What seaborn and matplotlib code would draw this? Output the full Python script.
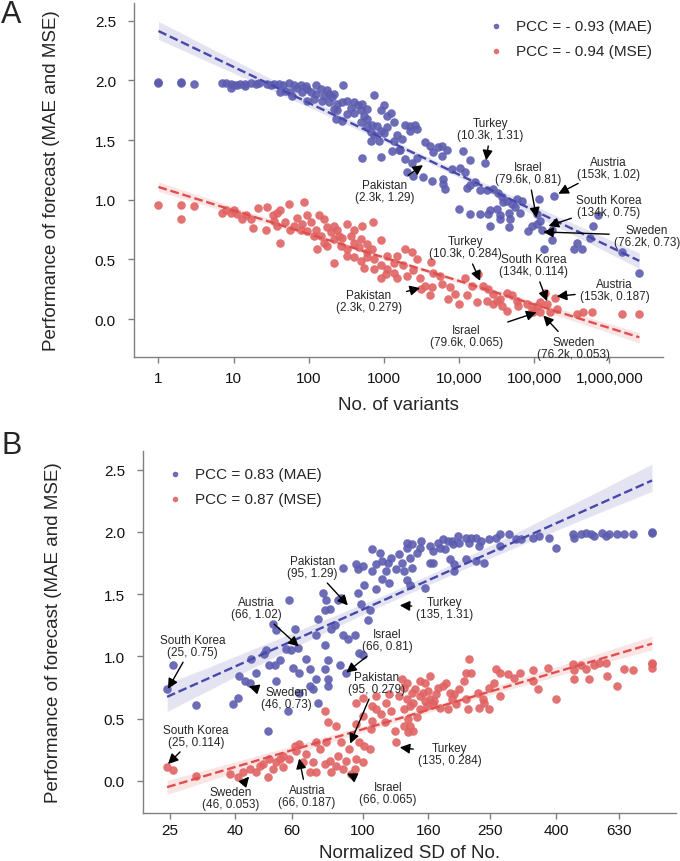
import numpy as np
import matplotlib
matplotlib.use("Agg")
import matplotlib.pyplot as plt
import seaborn as sns

# ---- panel A: number of variants vs forecast error ----
a_mae = [(1, 1.98), (1, 1.99), (2, 1.99), (2, 1.98), (3, 1.97), (7, 1.98), (7.8, 1.98), (9.1, 1.97), (10, 1.96),
         (12, 1.97), (14, 1.97), (17, 1.98), (20, 1.97), (22, 1.98), (28, 1.97), (31, 1.96), (34, 1.97), (40, 1.97),
         (45, 1.96), (55, 1.98), (63, 1.96), (70, 1.94), (78, 1.96), (91, 1.95), (95, 1.93), (123, 1.96), (144, 1.93),
         (177, 1.92), (288, 1.96), (42, 1.90), (49, 1.91), (57, 1.90), (82, 1.90), (106, 1.90), (123, 1.89),
         (159, 1.87), (205, 1.86), (215, 1.89), (151, 1.83), (186, 1.82), (240, 1.80), (280, 1.82), (325, 1.83),
         (400, 1.82), (515, 1.80), (735, 1.88), (1000, 1.79), (905, 1.75), (1230, 1.73), (600, 1.76), (540, 1.70),
         (400, 1.73), (325, 1.72), (240, 1.75), (228, 1.68), (280, 1.66), (490, 1.65), (600, 1.68), (695, 1.63),
         (815, 1.62), (905, 1.58), (1100, 1.61), (1360, 1.65), (735, 1.54), (855, 1.49), (670, 1.49), (1000, 1.56),
         (1360, 1.49), (1510, 1.54), (1290, 1.41), (1590, 1.42), (515, 1.35), (905, 1.36), (9.1, 1.94), (11, 1.96),
         (14, 1.95), (60, 1.87), (95, 1.83), (117, 1.84), (186, 1.89), (360, 1.77), (445, 1.79), (215, 1.76),
         (490, 1.75), (600, 1.62), (680, 1.57), (1100, 1.70),
         (1910, 1.63), (2220, 1.62), (2580, 1.63), (2740, 1.59), (2220, 1.58), (1740, 1.51), (1630, 1.42),
         (1910, 1.34), (2340, 1.31), (2740, 1.35), (3530, 1.48), (4100, 1.45), (4540, 1.40), (5270, 1.44),
         (5860, 1.45), (6800, 1.42), (5860, 1.37), (7960, 1.26), (10300, 1.27), (12000, 1.23), (11400, 1.41),
         (14000, 1.33), (22100, 1.31), (2000, 1.23), (2460, 1.20), (3330, 1.19), (4330, 1.16), (6150, 1.17),
         (6150, 1.13), (6470, 1.09), (12600, 1.10), (14000, 1.12), (16300, 1.15), (19000, 1.08), (23400, 1.08),
         (28600, 1.09), (33300, 1.06), (37000, 1.02), (38900, 0.98), (43000, 0.99), (50000, 0.96), (58500, 1.01),
         (68000, 0.99), (55500, 0.94), (64600, 0.89), (45500, 0.89), (35000, 0.87), (35000, 0.84), (31700, 0.92),
         (25800, 0.91), (24500, 0.88), (19000, 0.88), (14000, 0.88), (9820, 0.92), (25800, 0.78), (47700, 0.84),
         (45500, 0.77), (83400, 0.74), (92600, 0.78), (108000, 0.80), (120000, 0.82), (108000, 0.88),
         (114000, 1.01), (126000, 0.75), (171000, 0.66), (133000, 0.59), (185000, 1.03), (367000, 0.64),
         (427000, 0.59), (334000, 0.59), (553000, 0.68), (713000, 0.87), (613000, 0.78), (1450000, 0.56),
         (2500000, 0.39), (171000, 0.75)]

a_mse = [(1, 0.955), (2, 0.955), (2, 0.84), (3, 0.95), (7, 0.89), (7.8, 0.91), (9.1, 0.89), (10, 0.91), (11, 0.88),
         (13, 0.84), (17, 0.84), (21, 0.93), (18, 0.76), (27, 0.75), (28, 0.94), (33, 0.87), (38, 0.89), (42, 0.91),
         (55, 0.96), (41, 0.64), (49, 0.81), (63, 0.78), (70, 0.85), (82, 0.80), (86, 0.98), (95, 0.87), (78, 0.75),
         (95, 0.74), (106, 0.81), (123, 0.75), (130, 0.59), (137, 0.87), (159, 0.84), (177, 0.77), (195, 0.73),
         (215, 0.78), (240, 0.75), (325, 0.80), (400, 0.75), (515, 0.78), (720, 0.81), (159, 0.64), (177, 0.61),
         (215, 0.67), (252, 0.70), (265, 0.61), (325, 0.59), (400, 0.64), (490, 0.67), (600, 0.63), (695, 0.59),
         (905, 0.66), (215, 0.47), (325, 0.53), (400, 0.52), (490, 0.49), (540, 0.43), (600, 0.56), (735, 0.50),
         (905, 0.45), (905, 0.34), (1100, 0.53), (1100, 0.42), (1360, 0.47), (1510, 0.53), (1360, 0.39),
         (1510, 0.34), (117, 0.70), (144, 0.70), (57, 0.75), (38, 0.78), (34, 0.82), (14.5, 0.87), (280, 0.68),
         (360, 0.70), (467, 0.60), (600, 0.52), (735, 0.42), (1050, 0.38),
         (1910, 0.59), (2340, 0.56), (2740, 0.50), (1820, 0.45), (2000, 0.36), (2460, 0.41), (3000, 0.34),
         (3530, 0.28), (4100, 0.20), (4540, 0.39), (5570, 0.36), (5860, 0.29), (4330, 0.27), (3160, 0.25),
         (7560, 0.27), (7180, 0.17), (9820, 0.13), (8830, 0.21), (12600, 0.20), (12000, 0.34), (14700, 0.28),
         (21000, 0.28), (18000, 0.38), (24500, 0.25), (28600, 0.21), (31700, 0.15), (35000, 0.17), (37000, 0.11),
         (43000, 0.22), (50000, 0.20), (58500, 0.15), (61500, 0.11), (43000, 0.07), (28600, 0.13), (23400, 0.15),
         (17100, 0.14), (79300, 0.13), (92600, 0.08), (108000, 0.11), (120000, 0.14), (147000, 0.13),
         (163000, 0.06), (200000, 0.08), (120000, 0.06), (97400, 0.06), (190000, 0.18), (367000, 0.04),
         (448000, 0.06), (583000, 0.06), (1450000, 0.04), (2500000, 0.04), (140000, 0.22), (4200, 0.48)]

# ---- panel B: normalized SD vs forecast error ----
b_mae = [(24.5, 0.74), (25.5, 0.93), (30.2, 0.61), (39.3, 0.62), (40.7, 0.67), (41.2, 0.84), (42.8, 0.80),
         (44.3, 0.79), (46.5, 0.87), (44.9, 0.98), (49.3, 1.02), (49.9, 1.05), (51.1, 0.93), (53.0, 0.93),
         (55.0, 0.97), (53.7, 0.80), (58.3, 0.56), (59.0, 1.45), (62.7, 1.07), (61.2, 1.22), (57.7, 1.06),
         (59.7, 1.05), (52.4, 1.26), (53.7, 1.21), (50.5, 0.40), (66.5, 0.98), (68.2, 0.90), (69.8, 0.74),
         (72.4, 0.63), (63.4, 0.87), (71.5, 1.17), (72.4, 1.30), (75.9, 1.09), (77.8, 0.97), (78.7, 1.38),
         (75.0, 1.51), (76.9, 1.45), (75.9, 0.90), (84.6, 0.93), (86.7, 1.17), (88.7, 0.87), (83.6, 1.45),
         (79.6, 1.22), (81.6, 1.25), (89.8, 1.14), (94.2, 1.17), (78, 0.76), (97.5, 1.03), (100, 1.01),
         (98.8, 1.42), (96.4, 1.51), (101, 1.57), (105, 1.37), (104, 1.29), (107, 1.86), (110, 1.74), (113, 1.83),
         (115, 1.77), (120, 1.75), (122, 1.79), (127, 1.70), (137, 1.87), (140, 1.79), (110, 1.54), (115, 1.62),
         (121, 1.59), (96.4, 1.70), (95.3, 1.74), (100, 1.73), (86.7, 1.71), (107, 1.69), (118, 1.69),
         (77.8, 0.82), (63.4, 0.71), (68.2, 0.76), (60.5, 0.91), (71.5, 0.82), (75.9, 1.37), (85.6, 1.47),
         (137, 1.91), (142, 1.90), (152, 1.93), (151, 1.87), (147, 1.83), (162, 1.89), (166, 1.85), (171, 1.91),
         (174, 1.87), (180, 1.86), (184, 1.93), (189, 1.93), (191, 1.90), (198, 1.97), (210, 1.95), (215, 1.91),
         (218, 1.95), (226, 1.95), (234, 1.93), (231, 1.89), (248, 1.94), (260, 1.95), (267, 1.98), (286, 1.98),
         (300, 1.94), (311, 1.94), (339, 1.95), (355, 1.97), (381, 1.95), (400, 1.87), (451, 1.98), (456, 1.95),
         (479, 1.98), (496, 1.99), (514, 1.98), (526, 1.97), (558, 1.99), (572, 1.97), (586, 1.98), (622, 1.98),
         (653, 1.98), (697, 1.98), (798, 1.99), (798, 2.00), (134, 1.69), (137, 1.61), (142, 1.71), (156, 1.55),
         (162, 1.75), (166, 1.75), (187, 1.78), (193, 1.69), (193, 1.74), (210, 1.78), (226, 1.77), (239, 1.75),
         (267, 1.89), (130, 1.82), (132, 1.75), (140, 1.57), (178, 1.94), (200, 1.91)]

b_mse = [(24.5, 0.11), (25.5, 0.09), (30.2, 0.04), (38.4, 0.06), (40.7, 0.03), (42.3, 0.07), (44.3, 0.10),
         (47.6, 0.12), (50.5, 0.03), (52.4, 0.10), (53.7, 0.15), (56.3, 0.11), (59.0, 0.18), (61.2, 0.28),
         (62.0, 0.24), (65.0, 0.15), (66.5, 0.22), (68.2, 0.07), (69.8, 0.15), (71.5, 0.07), (73.3, 0.26),
         (75.9, 0.14), (76.9, 0.31), (78.7, 0.16), (79.6, 0.07), (82.6, 0.12), (83.6, 0.20), (85.6, 0.31),
         (86.7, 0.10), (88.7, 0.16), (90.8, 0.26), (91.9, 0.06), (94.2, 0.10), (95.3, 0.18), (97.5, 0.31),
         (100, 0.15), (101, 0.28), (105, 0.26), (106, 0.42), (107, 0.48), (110, 0.58), (114, 0.54), (117, 0.47),
         (118, 0.63), (122, 0.56), (126, 0.40), (127, 0.31), (130, 0.68), (95.3, 0.63), (95.3, 0.46), (100, 0.52),
         (110, 0.68), (100, 0.67), (107, 0.60), (121, 0.70), (82.6, 0.44), (75.9, 0.56), (77.8, 0.47),
         (71.5, 0.31), (63.4, 0.30), (56.3, 0.20), (55.0, 0.18), (46.5, 0.07), (48.8, 0.14), (51.1, 0.18),
         (215, 0.98), (210, 0.87), (218, 0.87), (207, 0.80), (200, 0.74), (193, 0.70), (187, 0.71), (182, 0.79),
         (178, 0.76), (171, 0.75), (169, 0.70), (167, 0.64), (166, 0.62), (162, 0.66), (156, 0.64), (154, 0.71),
         (151, 0.80), (156, 0.79), (162, 0.84), (145, 0.74), (142, 0.71), (137, 0.79), (134, 0.75), (132, 0.82),
         (137, 0.66), (143, 0.63), (140, 0.60), (134, 0.58), (138, 0.50), (134, 0.44), (138, 0.39), (143, 0.40),
         (140, 0.44), (147, 0.51), (151, 0.58), (158, 0.60), (174, 0.59), (184, 0.58), (195, 0.62), (210, 0.66),
         (228, 0.71), (231, 0.59), (237, 0.66), (239, 0.63), (248, 0.75), (257, 0.79), (260, 0.90), (267, 0.87),
         (267, 0.68), (283, 0.86), (297, 0.83), (308, 0.87), (339, 0.89), (339, 0.80), (351, 0.74), (377, 0.91),
         (400, 0.66), (451, 0.94), (456, 0.89), (456, 0.82), (479, 0.93), (496, 0.90), (508, 0.82), (526, 0.93),
         (546, 0.95), (572, 0.95), (579, 0.84), (622, 0.76), (653, 0.90), (697, 0.89), (798, 0.95), (798, 0.91),
         (798, 0.94), (248, 0.58), (213, 0.58), (189, 0.66), (151, 0.68), (160, 0.72)]

a_ticks = [1, 10, 100, 1000, 10000, 100000, 1000000]
a_ticklabels = ["1", "10", "100", "1000", "10,000", "100,000", "1,000,000"]
b_ticks = [25, 40, 60, 100, 160, 250, 400, 630]

a_legend = ["PCC = - 0.93 (MAE)", "PCC = - 0.94 (MSE)"]
b_legend = ["PCC = 0.83 (MAE)", "PCC = 0.87 (MSE)"]

# annotations: text, arrow tip (log10 x, y), text centre (log10 x, y)
a_notes = [("Turkey\n(10.3k, 1.31)", (4.36, 1.33), (4.42, 1.59)),
           ("Pakistan\n(2.3k, 1.29)", (3.52, 1.29), (3.01, 1.07)),
           ("Israel\n(79.6k, 0.81)", (5.03, 0.85), (4.92, 1.22)),
           ("Austria\n(153k, 1.02)", (5.32, 1.05), (5.99, 1.27)),
           ("South Korea\n(134k, 0.75)", (5.19, 0.78), (5.99, 0.95)),
           ("Sweden\n(76.2k, 0.73)", (5.12, 0.73), (6.50, 0.70)),
           ("Turkey\n(10.3k, 0.284)", (4.28, 0.32), (4.08, 0.60)),
           ("Pakistan\n(2.3k, 0.279)", (3.48, 0.26), (2.80, 0.15)),
           ("South Korea\n(134k, 0.114)", (5.17, 0.15), (4.99, 0.45)),
           ("Austria\n(153k, 0.187)", (5.30, 0.19), (6.07, 0.24)),
           ("Israel\n(79.6k, 0.065)", (5.03, 0.056), (4.10, -0.14)),
           ("Sweden\n(76.2k, 0.053)", (5.12, 0.03), (5.52, -0.24))]

b_notes = [("South Korea\n(25, 0.75)", (1.392, 0.74), (1.468, 1.086)),
           ("Austria\n(66, 1.02)", (1.800, 1.08), (1.667, 1.39)),
           ("Pakistan\n(95, 1.29)", (1.953, 1.41), (1.842, 1.72)),
           ("Turkey\n(135, 1.31)", (2.115, 1.41), (2.256, 1.39)),
           ("Israel\n(66, 0.81)", (1.948, 0.87), (2.076, 1.13)),
           ("Sweden\n(46, 0.73)", (1.644, 0.76), (1.761, 0.666)),
           ("South Korea\n(25, 0.114)", (1.392, 0.136), (1.480, 0.364)),
           ("Pakistan\n(95, 0.279)", (1.960, 0.30), (2.041, 0.79)),
           ("Turkey\n(135, 0.284)", (2.115, 0.27), (2.271, 0.217)),
           ("Sweden\n(46, 0.053)", (1.645, 0.035), (1.587, -0.14)),
           ("Austria\n(66, 0.187)", (1.801, 0.18), (1.825, -0.12)),
           ("Israel\n(66, 0.065)", (1.950, 0.06), (2.078, -0.094))]

sns.set_style("ticks")
plt.rcParams["font.family"] = ["Liberation Sans", "DejaVu Sans"]

BLUE, BLUE_LINE = "#5d5db0", "#4848ab"
RED, RED_LINE = "#e06363", "#e04f4f"
GREY = "#808080"

fig = plt.figure(figsize=(6.8, 8.62), dpi=100)
ax_a = fig.add_axes([0.197, 0.5847, 0.778, 0.4107])
ax_b = fig.add_axes([0.2103, 0.0557, 0.784, 0.420])


def draw_series(ax, pts, color, line_color, label):
    x, y = zip(*pts)
    lx = np.log10(x)
    sns.scatterplot(x=lx, y=list(y), ax=ax, color=color, s=38, linewidth=0, alpha=0.9,
                    label=label, zorder=3)
    sns.regplot(x=lx, y=np.array(y), ax=ax, scatter=False, ci=95, seed=3, truncate=True,
                line_kws=dict(color=line_color, lw=1.7, ls="--", zorder=4))


def style_axis(ax, ticks, labels, xlim, ylim, xlabel, xpad, xlabelpad, ylabelpad):
    ax.set_xticks(np.log10(ticks))
    ax.set_xticklabels(labels)
    ax.set_xlim(*xlim)
    ax.set_ylim(*ylim)
    ax.set_yticks([0, 0.5, 1.0, 1.5, 2.0, 2.5])
    ax.set_yticklabels(["0.0", "0.5", "1.0", "1.5", "2.0", "2.5"])
    sns.despine(ax=ax)
    for s in ("left", "bottom"):
        ax.spines[s].set_color(GREY)
        ax.spines[s].set_linewidth(1)
    ax.tick_params(direction="out", length=4, width=1, color=GREY, labelsize=11,
                   labelcolor="#111111")
    ax.tick_params(axis="y", pad=9)
    ax.tick_params(axis="x", pad=xpad)
    ax.set_xlabel(xlabel, fontsize=13.5, labelpad=xlabelpad)
    ax.set_ylabel("Performance of forecast (MAE and MSE)", fontsize=13.5, labelpad=ylabelpad)


def annotate(ax, notes):
    for text, tip, pos in notes:
        ax.annotate(text, xy=tip, xytext=pos, ha="center", va="center", fontsize=8.5,
                    linespacing=1.0, annotation_clip=False, zorder=6,
                    arrowprops=dict(arrowstyle="-|>", color="black", lw=1.0,
                                    mutation_scale=15, shrinkA=1, shrinkB=0))


draw_series(ax_a, a_mae, BLUE, BLUE_LINE, a_legend[0])
draw_series(ax_a, a_mse, RED, RED_LINE, a_legend[1])
style_axis(ax_a, a_ticks, a_ticklabels, (-0.326, 6.713), (-0.318, 2.649), "No. of variants", 6, 8, 25)
annotate(ax_a, a_notes)
ax_a.legend(loc="upper right", bbox_to_anchor=(1.0, 0.985), frameon=False, fontsize=11,
            markerscale=0.65, handletextpad=0.3, labelspacing=0.7, borderaxespad=0.3)

draw_series(ax_b, b_mae, BLUE, BLUE_LINE, b_legend[0])
draw_series(ax_b, b_mse, RED, RED_LINE, b_legend[1])
style_axis(ax_b, b_ticks, [str(t) for t in b_ticks], (1.314, 2.977), (-0.257, 2.65),
           "Normalized SD of No.", 3, 5, 30)
annotate(ax_b, b_notes)
ax_b.legend(loc="upper left", bbox_to_anchor=(0.012, 0.985), frameon=False, fontsize=11,
            markerscale=0.65, handletextpad=0.3, labelspacing=0.7, borderaxespad=0.3)

fig.text(0.002, 0.983, "A", fontsize=22, va="center", ha="left")
fig.text(0.002, 0.483, "B", fontsize=22, va="center", ha="left")

fig.savefig("out.png", dpi=100)
